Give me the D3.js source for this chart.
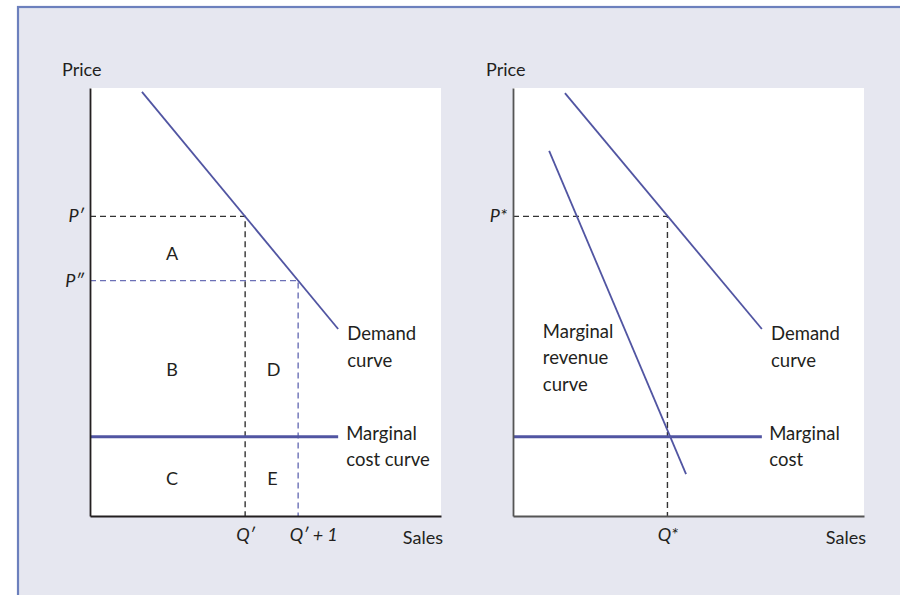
<!DOCTYPE html>
<html>
<head>
<meta charset="utf-8">
<script src="https://cdn.jsdelivr.net/npm/d3@7"></script>
<style>
  html, body { margin: 0; padding: 0; background: #ffffff; }
  svg { display: block; }
  text { font-family: Lato, "Open Sans", sans-serif; fill: #231f20; }
</style>
</head>
<body>
<svg id="chart" width="900" height="595"></svg>
<script>
// ---------- data (chart units: 0–100 on both axes) ----------
// Left panel
const leftDemand = [[14.8, 99.1], [70.7, 43.7]];
const leftMarginalCost = [[0, 18.5], [70.7, 18.5]];
const leftPriceValues = [70, 55];
const leftPriceLabels = ["P′", "P″"];
const leftSalesValues = [44.2, 59.3];
const leftSalesLabels = ["Q′", "Q′ + 1"];
const regionLabels = ["A", "B", "C", "D", "E"];
const regionX = [23.4, 23.4, 23.4, 52.3, 52.0];
const regionY = [61.3, 34.2, 8.6, 34.2, 8.6];
const leftCurveLabels = [["Demand", "curve"], ["Marginal", "cost curve"]];
const leftCurveLabelX = [73.3, 73.0];
const leftCurveLabelY = [41.1, 17.8];

// Right panel
const rightDemand = [[14.8, 98.8], [70.9, 43.7]];
const rightMarginalRevenue = [[10.3, 85.3], [49.3, 9.8]];
const rightMarginalCost = [[0, 18.5], [70.9, 18.5]];
const rightPriceValues = [70];
const rightPriceLabels = ["P*"];
const rightSalesValues = [44.0];
const rightSalesLabels = ["Q*"];
const rightCurveLabels = [["Marginal", "revenue", "curve"], ["Demand", "curve"], ["Marginal", "cost"]];
const rightCurveLabelX = [8.5, 73.5, 73.0];
const rightCurveLabelY = [41.7, 41.1, 17.8];

const axisTitles = ["Price", "Sales"];

// ---------- layout ----------
const svg = d3.select("#chart");
const lineBlue = "#5155a2";
const dashBlue = "#6b70b6";

// outer frame
svg.append("rect")
  .attr("x", 18).attr("y", 7).attr("width", 900).attr("height", 600)
  .attr("fill", "#e6e7f0").attr("stroke", "#6c80bd").attr("stroke-width", 2.2);

function drawPanel(opts) {
  const g = svg.append("g").attr("transform", `translate(${opts.left},88)`);
  const W = 351, H = 428;
  const x = d3.scaleLinear().domain([0, 100]).range([0, W]);
  const y = d3.scaleLinear().domain([0, 100]).range([H, 0]);
  const line = d3.line().x(d => x(d[0])).y(d => y(d[1]));

  g.append("rect").attr("x", 0).attr("y", 0).attr("width", W).attr("height", H).attr("fill", "#ffffff");

  // dashed guides
  opts.guides.forEach(gd => {
    g.append("path")
      .attr("d", line([[0, gd.p], [gd.q, gd.p], [gd.q, 0]]))
      .attr("fill", "none").attr("stroke", gd.color).attr("stroke-width", 1.4)
      .attr("stroke-dasharray", "6,4");
  });

  // curves
  opts.curves.forEach(c => {
    g.append("path").attr("d", line(c.pts)).attr("fill", "none")
      .attr("stroke", lineBlue).attr("stroke-width", c.w);
  });

  // axes
  const yAxis = d3.axisLeft(y).tickValues(opts.priceValues)
    .tickFormat((d, i) => opts.priceLabels[i]).tickSize(0).tickPadding(6).tickSizeOuter(0);
  const xAxis = d3.axisBottom(x).tickValues(opts.salesValues)
    .tickFormat((d, i) => opts.salesLabels[i]).tickSize(0).tickPadding(12).tickSizeOuter(0);

  const ya = g.append("g").call(yAxis);
  const xa = g.append("g").attr("transform", `translate(0,${H})`).call(xAxis);
  [ya, xa].forEach(a => {
    a.select(".domain").attr("stroke", opts.axisColor).attr("stroke-width", 1.8);
    a.selectAll("text").attr("font-family", "Lato, 'Open Sans', sans-serif")
      .attr("font-size", 18).attr("font-style", "italic").attr("fill", "#231f20");
  });
  ya.selectAll(".tick text").attr("dy", "0.3em");
  xa.selectAll(".tick text").each(function (d, i) {
    const t = d3.select(this);
    if (opts.salesLabels[i].indexOf("+") >= 0) t.attr("text-anchor", "start").attr("dx", -9);
  });

  // axis titles
  g.append("text").attr("x", opts.priceTitleX).attr("y", -12)
    .attr("font-size", 18).text(axisTitles[0]);
  g.append("text").attr("x", W + 2).attr("y", H + 28).attr("text-anchor", "end")
    .attr("font-size", 18).text(axisTitles[1]);

  // curve labels
  opts.curveLabels.forEach((lines, i) => {
    const t = g.append("text").attr("x", x(opts.curveLabelX[i])).attr("y", y(opts.curveLabelY[i]))
      .attr("font-size", 18.5);
    lines.forEach((s, j) => {
      t.append("tspan").attr("x", x(opts.curveLabelX[i])).attr("dy", j === 0 ? 0 : 26.5).text(s);
    });
  });

  // region labels
  if (opts.regions) {
    opts.regions.labels.forEach((s, i) => {
      g.append("text").attr("x", x(opts.regions.x[i])).attr("y", y(opts.regions.y[i]))
        .attr("text-anchor", "middle").attr("dy", "0.35em").attr("font-size", 18).text(s);
    });
  }
}

drawPanel({
  left: 90,
  axisColor: "#231f20",
  priceTitleX: -28,
  guides: [
    { p: leftPriceValues[0], q: leftSalesValues[0], color: "#333333" },
    { p: leftPriceValues[1], q: leftSalesValues[1], color: dashBlue }
  ],
  curves: [
    { pts: leftDemand, w: 1.8 },
    { pts: leftMarginalCost, w: 3 }
  ],
  priceValues: leftPriceValues, priceLabels: leftPriceLabels,
  salesValues: leftSalesValues, salesLabels: leftSalesLabels,
  curveLabels: leftCurveLabels, curveLabelX: leftCurveLabelX, curveLabelY: leftCurveLabelY,
  regions: { labels: regionLabels, x: regionX, y: regionY }
});

drawPanel({
  left: 513,
  axisColor: "#555555",
  priceTitleX: -27,
  guides: [
    { p: rightPriceValues[0], q: rightSalesValues[0], color: "#333333" }
  ],
  curves: [
    { pts: rightDemand, w: 1.8 },
    { pts: rightMarginalRevenue, w: 1.8 },
    { pts: rightMarginalCost, w: 3 }
  ],
  priceValues: rightPriceValues, priceLabels: rightPriceLabels,
  salesValues: rightSalesValues, salesLabels: rightSalesLabels,
  curveLabels: rightCurveLabels, curveLabelX: rightCurveLabelX, curveLabelY: rightCurveLabelY
});
</script>
</body>
</html>
